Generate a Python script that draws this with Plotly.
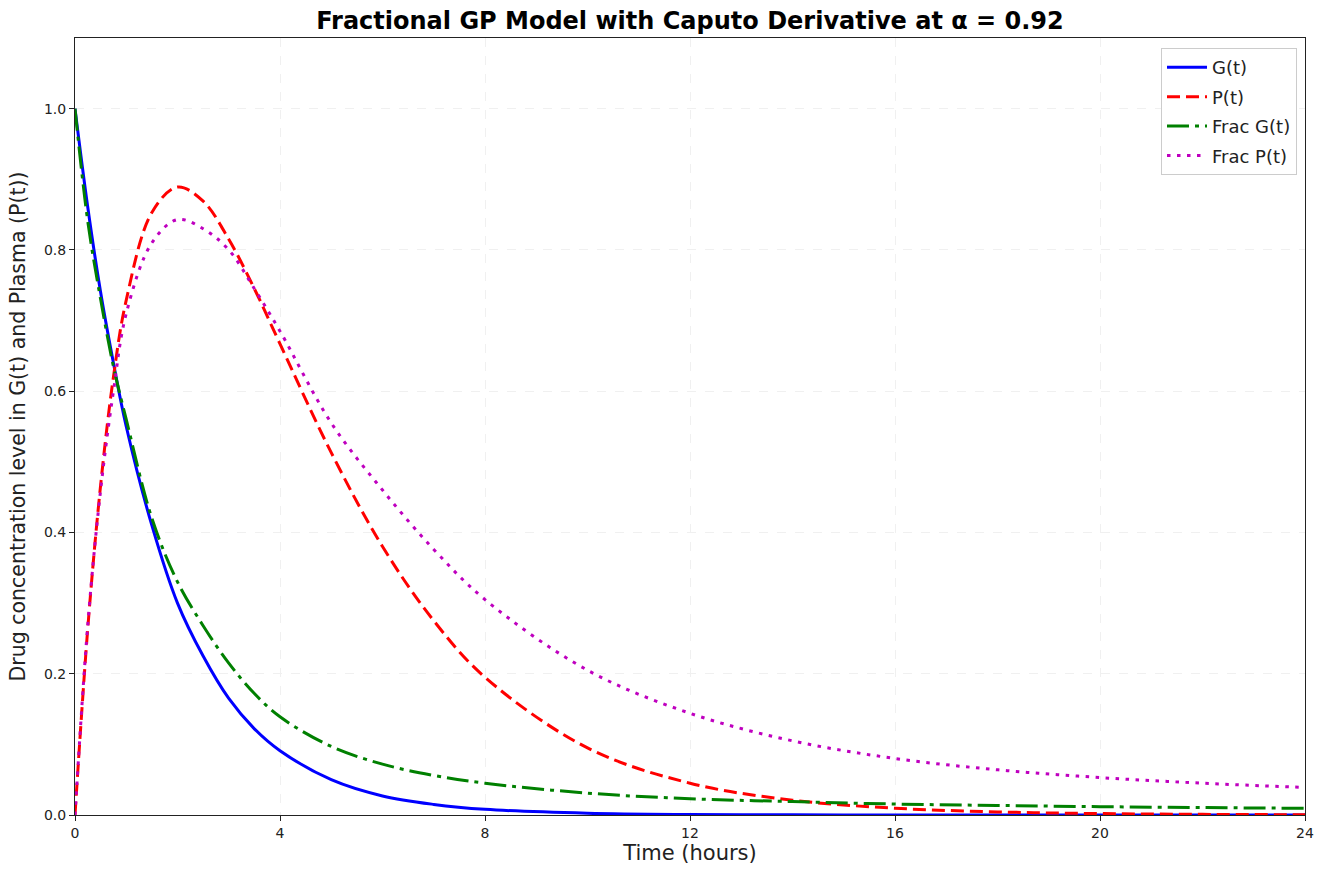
import plotly.graph_objects as go

t = [0, 0.25, 0.5, 0.75, 1, 1.5, 2, 2.5, 3, 3.5, 4, 5, 6, 7, 8, 10, 12, 14, 16, 18, 20, 22, 24]

g_vals = [1.0, 0.86, 0.74, 0.64, 0.55, 0.41, 0.30, 0.225, 0.165, 0.122, 0.091, 0.050, 0.027,
          0.015, 0.008, 0.0025, 0.0007, 0.0002, 0.0001, 0.0, 0.0, 0.0, 0.0]
p_vals = [0.0, 0.265, 0.467, 0.62, 0.729, 0.853, 0.889, 0.869, 0.815, 0.745, 0.667, 0.513, 0.380,
          0.275, 0.195, 0.095, 0.045, 0.021, 0.0096, 0.0044, 0.002, 0.0009, 0.0004]
frac_g_vals = [1.0, 0.84, 0.73, 0.635, 0.56, 0.42, 0.33, 0.268, 0.215, 0.172, 0.139, 0.097, 0.072,
               0.056, 0.045, 0.031, 0.023, 0.019, 0.0155, 0.0135, 0.0118, 0.0105, 0.0095]
frac_p_vals = [0.0, 0.27, 0.46, 0.60, 0.71, 0.81, 0.843, 0.83, 0.80, 0.745, 0.685, 0.555, 0.46,
               0.376, 0.305, 0.205, 0.144, 0.105, 0.080, 0.064, 0.053, 0.045, 0.039]

x_ticks = [0, 4, 8, 12, 16, 20, 24]
y_ticks = [0.0, 0.2, 0.4, 0.6, 0.8, 1.0]

fig = go.Figure()
fig.add_trace(go.Scatter(x=t, y=g_vals, mode="lines", name="G(t)", legendgroup="a",
                         line=dict(color="#0000ff", width=3, shape="spline")))
fig.add_trace(go.Scatter(x=t, y=p_vals, mode="lines", name="P(t)", legendgroup="b",
                         line=dict(color="#ff0000", width=3, shape="spline", dash="13px,6px")))
fig.add_trace(go.Scatter(x=t, y=frac_g_vals, mode="lines", name="Frac G(t)", legendgroup="c",
                         line=dict(color="#008000", width=3, shape="spline", dash="22px,6px,4px,6px")))
fig.add_trace(go.Scatter(x=t, y=frac_p_vals, mode="lines", name="Frac P(t)", legendgroup="d",
                         line=dict(color="#bf00bf", width=3, shape="spline", dash="3.5px,6.5px")))

axis_common = dict(
    showline=True, linecolor="#222222", linewidth=1, mirror=True,
    ticks="outside", ticklen=5, tickcolor="#222222",
    showgrid=True, gridcolor="#f0f0f0", griddash="dash", gridwidth=1,
    zeroline=False, tickfont=dict(family="DejaVu Sans", size=14, color="#222222"),
)

fig.update_layout(
    width=1330, height=870,
    paper_bgcolor="white", plot_bgcolor="white",
    margin=dict(l=75, r=25, t=38, b=55),
    title=dict(text="<b>Fractional GP Model with Caputo Derivative at α = 0.92</b>",
               x=(75 + 1305) / 2 / 1330, xanchor="center", y=1 - 21 / 870, yanchor="middle",
               font=dict(family="DejaVu Sans", size=24, color="black")),
    xaxis=dict(range=[0, 24], tickvals=x_ticks, ticktext=[str(v) for v in x_ticks],
               title=dict(text="Time (hours)", font=dict(family="DejaVu Sans", size=21, color="#222222"),
                          standoff=3),
               **axis_common),
    yaxis=dict(range=[0, 1.1], tickvals=y_ticks, ticktext=[f"{v:.1f}" for v in y_ticks],
               title=dict(text="Drug concentration level in G(t) and Plasma (P(t))",
                          font=dict(family="DejaVu Sans", size=20.5, color="#222222"), standoff=12),
               **axis_common),
    legend=dict(x=0.9935, y=0.987, xanchor="right", yanchor="top",
                bgcolor="white", bordercolor="#cccccc", borderwidth=1,
                font=dict(family="DejaVu Sans", size=18, color="#222222"),
                itemwidth=40, tracegroupgap=3),
    showlegend=True,
)

fig.write_html("out.html")
